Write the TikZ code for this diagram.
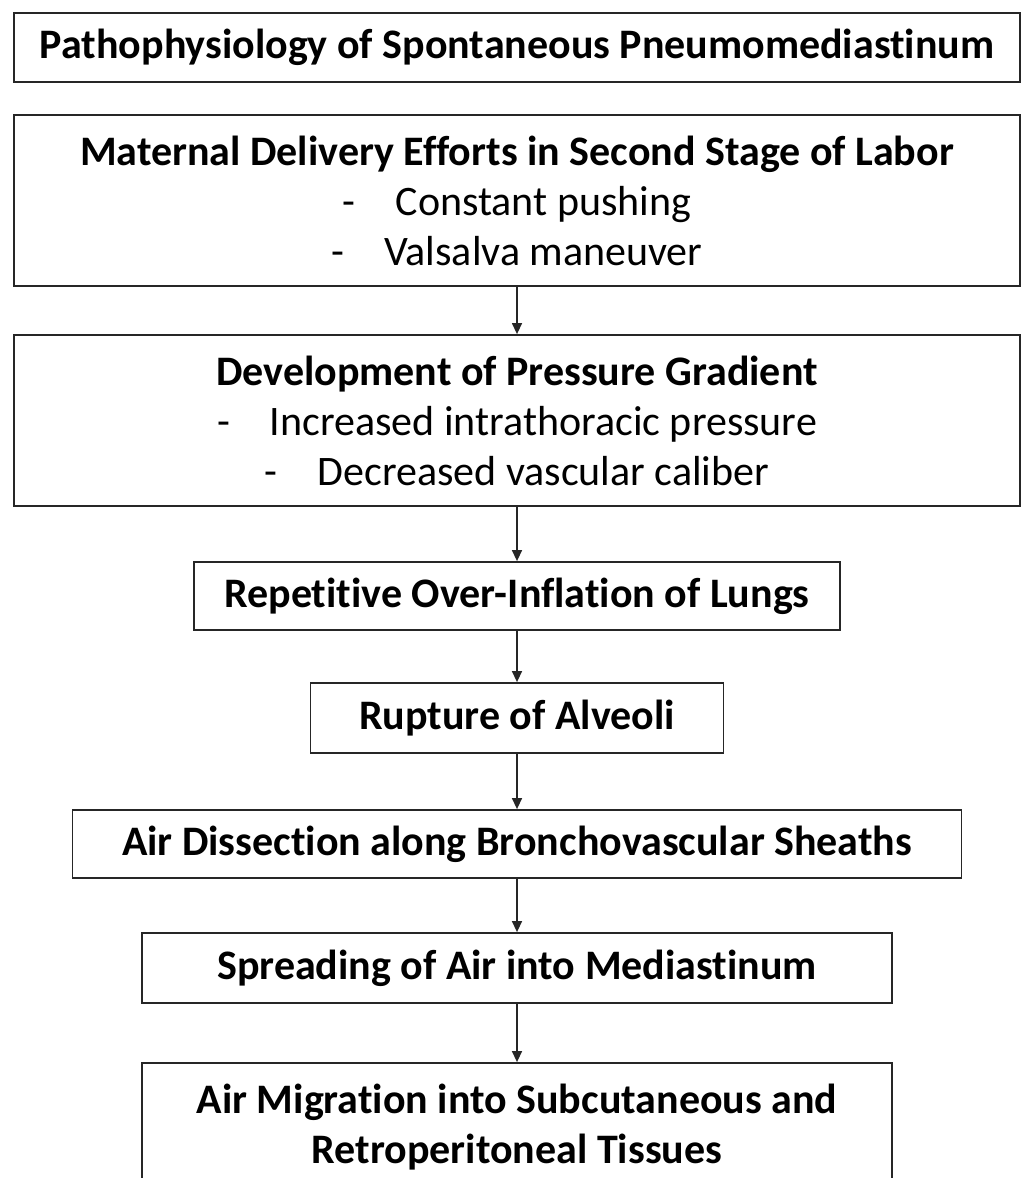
\documentclass[tikz,border=0pt]{standalone}
\usepackage{fontspec}
\setmainfont{Carlito}[Ligatures=NoCommon]
\usetikzlibrary{arrows.meta}
\tikzset{
	box/.style={draw=black!85, line width=1.8pt, align=center, inner sep=0pt, font=\fontsize{42}{50}\selectfont},
	arr/.style={-{Triangle[length=11pt,width=10pt]}, line width=1.4pt, draw=black!85},
}
\newcommand{\itemdash}{-\hspace{40pt}}
\begin{document}
\begin{tikzpicture}[x=1pt, y=-1pt]
		\useasboundingbox (0,0) rectangle (1027,1178);
		\clip (0,0) rectangle (1027,1178);
		\node (title) at (517,47.5) [box, minimum width=1006pt, minimum height=69pt] {\textbf{Pathophysiology of Spontaneous Pneumomediastinum}};
		\node (effort) at (517,200.5) [box, minimum width=1006pt, minimum height=171pt] {\textbf{Maternal Delivery Efforts in Second Stage of Labor}\\ \itemdash Constant pushing\\ \itemdash Valsalva maneuver};
		\node (gradient) at (517,420.5) [box, minimum width=1006pt, minimum height=171pt] {\textbf{Development of Pressure Gradient}\\ \itemdash Increased intrathoracic pressure\\ \itemdash Decreased vascular caliber};
		\node (inflation) at (517,596) [box, minimum width=646pt, minimum height=68pt] {\textbf{Repetitive Over-Inflation of Lungs}};
		\node (rupture) at (517,718) [box, minimum width=413pt, minimum height=70pt] {\textbf{Rupture of Alveoli}};
		\node (dissection) at (517,844) [box, minimum width=889pt, minimum height=68pt] {\textbf{Air Dissection along Bronchovascular Sheaths}};
		\node (spreading) at (517,968) [box, minimum width=750pt, minimum height=70pt] {\textbf{Spreading of Air into Mediastinum}};
		\node (migration) at (517,1127) [box, minimum width=750pt, minimum height=128pt] {\textbf{Air Migration into Subcutaneous and}\\ \textbf{Retroperitoneal Tissues}};
		\draw[arr] (effort) -- (gradient);
		\draw[arr] (gradient) -- (inflation);
		\draw[arr] (inflation) -- (rupture);
		\draw[arr] (rupture) -- (dissection);
		\draw[arr] (dissection) -- (spreading);
		\draw[arr] (spreading) -- (migration);
	\end{tikzpicture}
\end{document}
